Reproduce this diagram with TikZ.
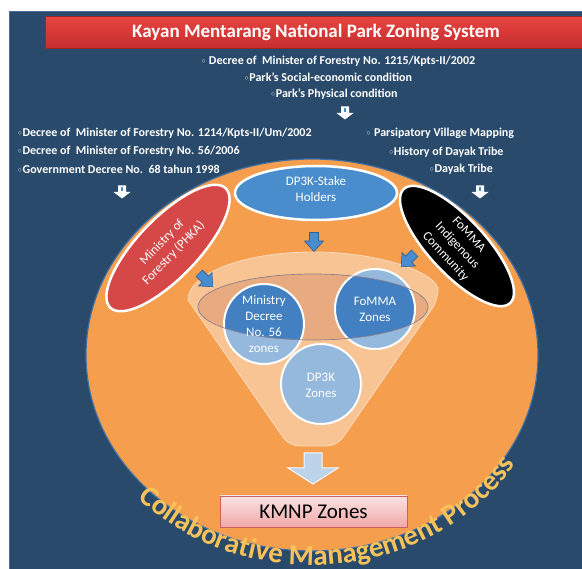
\documentclass[tikz,border=0pt]{standalone}
\usepackage{fontspec}
\setmainfont{Carlito}
\newfontfamily\dejavu{DejaVu Sans}
\usetikzlibrary{decorations.text,shapes.geometric,shadings}
\definecolor{panel}{RGB}{41,74,107}
\definecolor{paneledge}{RGB}{72,110,150}
\definecolor{orng}{RGB}{245,158,78}
\definecolor{orngedge}{RGB}{60,110,165}
\definecolor{peach}{RGB}{248,196,148}
\definecolor{peachedge}{RGB}{252,218,188}
\definecolor{innerpeach}{RGB}{232,170,128}
\definecolor{innerline}{RGB}{140,128,140}
\definecolor{bluell}{RGB}{74,141,204}
\definecolor{redell}{RGB}{214,72,72}
\definecolor{zonelight}{RGB}{148,185,221}
\definecolor{zonedark}{RGB}{66,128,193}
\definecolor{gold}{RGB}{248,194,90}
\definecolor{arrowblue}{RGB}{72,140,208}
\definecolor{bigarrow}{RGB}{189,211,234}
\definecolor{titletop}{RGB}{232,68,64}
\definecolor{titlebot}{RGB}{196,46,46}
\definecolor{kmnpedge}{RGB}{205,95,95}
\definecolor{kmnptop}{RGB}{251,226,226}
\definecolor{kmnpbot}{RGB}{240,168,168}
\newcommand{\bul}{{\dejavu\fontsize{8.5}{8.5}\selectfont ◦}}
\begin{document}
\begin{tikzpicture}[x=1pt,y=1pt,
  bulltext/.style={text=white,font=\bfseries\fontsize{12}{14}\selectfont,inner sep=0pt},
  elltext/.style={text=white,font=\fontsize{13}{16}\selectfont,align=center,inner sep=0pt},
  zonetext/.style={text=white,font=\fontsize{13}{16}\selectfont,align=center,inner sep=0pt},
  stakeell/.style={ellipse,draw=white,line width=2.5pt,inner sep=0pt},
  pics/smallarrow/.style={code={
    \fill[white] (-4,6.5) -- (4,6.5) -- (4,0) -- (8.5,0) -- (0,-6.5) -- (-8.5,0) -- (-4,0) -- cycle;
    \fill[bluell] (-1.3,5) rectangle (1.3,0.5);}},
  pics/bluearrow/.style={code={
    \draw[fill=arrowblue,draw=arrowblue!70!black,line width=0.6pt]
      (-4.5,9.5) -- (4.5,9.5) -- (4.5,1) -- (9.5,1) -- (0,-9.5) -- (-9.5,1) -- (-4.5,1) -- cycle;}}
]
\useasboundingbox (0,0) rectangle (582,-569);
\fill[white] (0,0) rectangle (582,-569);
% panel
\draw[fill=panel,draw=paneledge,line width=1pt] (9,-12) rectangle (584,-571);
% title banner
\node[top color=titletop,bottom color=titlebot,draw=titlebot!80!black,line width=0.5pt,
      minimum width=540,minimum height=32,inner sep=0pt,anchor=north west] (banner) at (45,-16) {};
\node[text=white,font=\bfseries\fontsize{19}{22}\selectfont] (title) at (316,-32)
  {Kayan Mentarang National Park Zoning System};
% top texts
\node[bulltext] (t1) at (338,-61) {\bul\ Decree of\ \ Minister of Forestry No. 1215/Kpts-II/2002};
\node[bulltext] (t2) at (328,-77) {\bul Park's Social-economic condition};
\node[bulltext] (t3) at (334,-94) {\bul Park's Physical condition};
% left texts
\node[bulltext,anchor=west] (l1) at (17,-133) {\bul Decree of\ \ Minister of Forestry No. 1214/Kpts-II/Um/2002};
\node[bulltext,anchor=west] (l2) at (17,-151) {\bul Decree of\ \ Minister of Forestry No. 56/2006};
\node[bulltext,anchor=west] (l3) at (17,-169) {\bul Government Decree No.\ \ 68 tahun 1998};
% right texts
\node[bulltext] (r1) at (440,-133) {\bul\ Parsipatory Village Mapping};
\node[bulltext] (r2) at (446,-152) {\bul History of Dayak Tribe};
\node[bulltext] (r3) at (461,-169) {\bul Dayak Tribe};
% small white arrows
\pic at (345,-113) {smallarrow};
\pic at (122,-192) {smallarrow};
\pic at (480,-192) {smallarrow};
% orange ellipse
\draw[fill=orng,draw=orngedge,line width=1.2pt] (312,-355) ellipse [x radius=226, y radius=196];
% curved text
\path[decorate,decoration={text along path,text align=center,text color=gold,
   text={|\bfseries\fontsize{29}{29}\selectfont|Collaborative Management Process}}]
   (312,-355) ++(206:238 and 210) arc[start angle=206,end angle=346,x radius=238,y radius=210];
% stakeholder ellipses
\node[stakeell,fill=bluell,minimum width=162,minimum height=54] (dp3k) at (316,-193) {};
\node[elltext] (dp3kt) at (316,-189) {DP3K-Stake\\Holders};
\node[stakeell,fill=redell,minimum width=166,minimum height=60,rotate=46] (moef) at (168,-248) {};
\node[elltext,rotate=46] (moeft) at (168,-248) {Ministry of\\Forestry (PHKA)};
\node[stakeell,fill=black,minimum width=156,minimum height=56,rotate=-47] (fomma) at (457,-246) {};
\node[elltext,rotate=-47] (fommat) at (457,-246) {FoMMA\\Indigenous\\Community};
% funnel
\draw[fill=peach,draw=peachedge,line width=0.8pt,rounded corners=10pt]
  (188,-300) -- (289,-446) -- (337,-446) -- (438,-300)
  [sharp corners] arc[start angle=0,end angle=180,x radius=125,y radius=48] -- cycle;
\fill[innerpeach] (313,-307) ellipse [x radius=115, y radius=33];
% zones circles
\coordinate (cm) at (264,-324);
\coordinate (cf) at (375,-309);
\coordinate (cd) at (321,-384);
\fill[zonelight] (cm) circle (40);
\fill[zonelight] (cf) circle (40);
\fill[zonelight] (cd) circle (40);
\begin{scope}
  \clip (313,-307) ellipse [x radius=115, y radius=33];
  \fill[zonedark] (cm) circle (40);
  \fill[zonedark] (cf) circle (40);
\end{scope}
\draw[white,line width=2pt] (cm) circle (40);
\draw[white,line width=2pt] (cf) circle (40);
\draw[white,line width=2pt] (cd) circle (40);
\draw[innerline,line width=0.7pt] (313,-307) ellipse [x radius=115, y radius=33];
\node[zonetext] (zm) at (264,-324) {Ministry\\Decree\\No. 56\\zones};
\node[zonetext] (zf) at (375,-309) {FoMMA\\Zones};
\node[zonetext] (zd) at (321,-385) {DP3K\\Zones};
% blue arrows
\pic at (314,-242) {bluearrow};
\pic[rotate=45] at (206,-280) {bluearrow};
\pic[rotate=-45] at (408,-260) {bluearrow};
% big arrow
\draw[fill=bigarrow,draw=white!85!bigarrow,line width=1pt]
  (304,-453) -- (322,-453) -- (322,-468) -- (338,-468) -- (313,-484) -- (288,-468) -- (304,-468) -- cycle;
% KMNP box
\node[top color=kmnptop,bottom color=kmnpbot,draw=kmnpedge,line width=0.8pt,
      minimum width=187,minimum height=31,inner sep=0pt,
      font=\fontsize{21}{23}\selectfont] (kmnp) at (313.5,-511.5) {KMNP Zones};
\end{tikzpicture}
\end{document}
